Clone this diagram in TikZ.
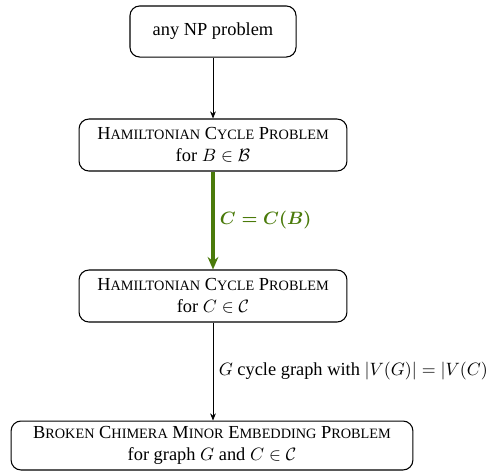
\documentclass[tikz,border=0pt]{standalone}
\usepackage{fontspec}
\setmainfont{Liberation Serif}
\usepackage{amsmath}
\usetikzlibrary{arrows.meta}
\definecolor{arrowgreen}{HTML}{4A7A0A}
\newcommand\sca[1]{{\fontsize{8pt}{9pt}\selectfont #1}}
\begin{document}
\begin{tikzpicture}[x=0.56pt,y=-0.56pt,
  every node/.style={font=\fontsize{10.3pt}{12.2pt}\selectfont},
  box/.style={draw, rounded corners=5.5pt, align=center, inner sep=0pt, line width=0.6pt},
  conn/.style={-{Stealth[length=4pt,width=3.2pt]}, line width=0.45pt},
  greenconn/.style={-{Stealth[length=7pt,width=6pt]}, line width=1.8pt, draw=arrowgreen},
  lbl/.style={anchor=west, inner sep=0pt, xshift=3pt},
  greenlbl/.style={lbl, text=arrowgreen, font=\fontsize{10.3pt}{12.2pt}\selectfont\boldmath}]
\useasboundingbox (0,0) rectangle (486,474);
\node[box, minimum width=93pt, minimum height=28.6pt] (np) at (213,31.5) {any NP problem};
\node[box, minimum width=150pt, minimum height=29.1pt] (hb) at (213,145)
  {H\sca{AMILTONIAN} C\sca{YCLE} P\sca{ROBLEM}\\ for $B\in\mathcal{B}$};
\node[box, minimum width=150pt, minimum height=29.1pt] (hc) at (213,296)
  {H\sca{AMILTONIAN} C\sca{YCLE} P\sca{ROBLEM}\\ for $C\in\mathcal{C}$};
\node[box, minimum width=225pt, minimum height=27.4pt] (bc) at (212,445.5)
  {B\sca{ROKEN} C\sca{HIMERA} M\sca{INOR} E\sca{MBEDDING} P\sca{ROBLEM}\\ for graph $G$ and $C\in\mathcal{C}$};
\draw[conn] (np) -- (hb);
\draw[greenconn] (hb) -- (hc) node[greenlbl, pos=0.5] {$C=C(B)$};
\draw[conn] (hc.south) -- (bc.north -| hc.south) node[lbl, pos=0.5] {$G$ cycle graph with $|V(G)|=|V(C)|$};
\end{tikzpicture}
\end{document}
